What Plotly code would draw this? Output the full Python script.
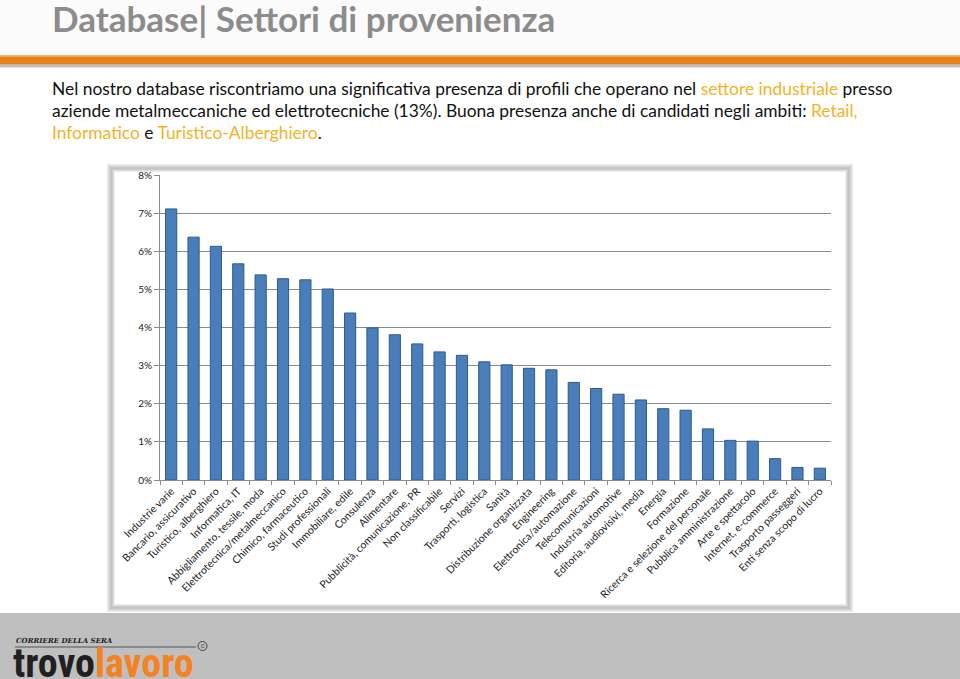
import plotly.graph_objects as go

# ---------------- data ----------------
categories = [
    "Industrie varie", "Bancario, assicurativo", "Turistico, alberghiero", "Informatica, IT",
    "Abbigliamento, tessile, moda", "Elettrotecnica/metalmeccanico", "Chimico, farmaceutico",
    "Studi professionali", "Immobiliare, edile", "Consulenza", "Alimentare",
    "Pubblicità, comunicazione, PR", "Non classificabile", "Servizi", "Trasporti, logistica",
    "Sanità", "Distribuzione organizzata", "Engineering", "Elettronica/automazione",
    "Telecomunicazioni", "Industria automotive", "Editoria, audiovisivi, media", "Energia",
    "Formazione", "Ricerca e selezione del personale", "Pubblica amministrazione",
    "Arte e spettacolo", "Internet, e-commerce", "Trasporto passeggeri", "Enti senza scopo di lucro",
]
values_pct = [
    7.11, 6.37, 6.13, 5.67, 5.38, 5.28, 5.25, 5.01, 4.38, 3.99, 3.81, 3.57, 3.36, 3.27, 3.10,
    3.02, 2.93, 2.89, 2.56, 2.40, 2.25, 2.10, 1.87, 1.83, 1.34, 1.04, 1.02, 0.56, 0.33, 0.31,
]
y_tick_values = [0, 1, 2, 3, 4, 5, 6, 7, 8]
y_tick_labels = [f"{v}%" for v in y_tick_values]

title_text = "Database| Settori di provenienza"
HL = "#F2B326"
body_lines = [
    'Nel nostro database riscontriamo una significativa presenza di profili che operano nel '
    f'<span style="color:{HL}">settore industriale</span> presso',
    'aziende metalmeccaniche ed elettrotecniche (13%). Buona presenza anche di candidati negli ambiti: '
    f'<span style="color:{HL}">Retail,</span>',
    f'<span style="color:{HL}">Informatico</span> e '
    f'<span style="color:{HL}">Turistico-Alberghiero</span>.',
]

# ---------------- layout geometry (pixels) ----------------
W_FIG, H_FIG = 960, 679
L, R, T, B = 160, 831, 175, 480
PW, PH = R - L, B - T


def px(x):
    return (x - L) / PW


def py(y):
    return (B - y) / PH


FONT = "Lato, Calibri, Carlito, 'Open Sans', sans-serif"

fig = go.Figure()
fig.add_trace(go.Bar(
    x=categories, y=values_pct,
    marker=dict(color="#4A7EBB", line=dict(color="#2C5A8F", width=1)),
    hovertemplate="%{x}: %{y:.2f}%<extra></extra>",
))

shapes = []
# header band
shapes.append(dict(type="rect", xref="paper", yref="paper", x0=px(0), x1=px(W_FIG), y0=py(0), y1=py(55),
                   fillcolor="#FBFBFB", line=dict(width=0), layer="below"))
# orange bar + shadow
shapes.append(dict(type="rect", xref="paper", yref="paper", x0=px(0), x1=px(W_FIG), y0=py(64.5), y1=py(67.5),
                   fillcolor="#B9C0C8", line=dict(width=0), layer="below"))
shapes.append(dict(type="rect", xref="paper", yref="paper", x0=px(0), x1=px(W_FIG), y0=py(55.5), y1=py(64.5),
                   fillcolor="#E8801C", line=dict(width=0), layer="below"))
shapes.append(dict(type="rect", xref="paper", yref="paper", x0=px(0), x1=px(W_FIG), y0=py(55.5), y1=py(57),
                   fillcolor="#F0A860", line=dict(width=0), layer="below"))
# chart panel with soft shadow border
for i, col in enumerate(["#EDEDED", "#E0E0E0", "#D3D3D3", "#C8C8C8", "#C4C4C4", "#CCCCCC", "#DCDCDC", "#EEEEEE"]):
    shapes.append(dict(type="rect", xref="paper", yref="paper",
                       x0=px(107 + i), x1=px(853 - i), y0=py(164 + i), y1=py(612 - i),
                       fillcolor=col, line=dict(width=0), layer="below"))
shapes.append(dict(type="rect", xref="paper", yref="paper", x0=px(115), x1=px(845), y0=py(172), y1=py(604),
                   fillcolor="#FFFFFF", line=dict(width=0), layer="below"))
# footer
shapes.append(dict(type="rect", xref="paper", yref="paper", x0=px(0), x1=px(W_FIG), y0=py(613), y1=py(H_FIG + 2),
                   fillcolor="#BFBFBF", line=dict(width=0), layer="below"))
# logo rule
shapes.append(dict(type="line", xref="paper", yref="paper", x0=px(15), x1=px(196), y0=py(647), y1=py(647),
                   line=dict(color="#555555", width=1)))
shapes.append(dict(type="circle", xref="paper", yref="paper", x0=px(198), x1=px(207), y0=py(641.5), y1=py(650.5),
                   line=dict(color="#444444", width=1)))

annotations = []
annotations.append(dict(text=f"<b>{title_text}</b>", xref="paper", yref="paper", x=px(50), y=py(18),
                        xanchor="left", yanchor="middle", showarrow=False,
                        font=dict(family=FONT, size=35, color="#8C8C8C")))
for i, line in enumerate(body_lines):
    annotations.append(dict(text=line, xref="paper", yref="paper", x=px(50), y=py(88 + 22.5 * i),
                            xanchor="left", yanchor="middle", showarrow=False,
                            font=dict(family=FONT, size=17.4, color="#111111")))
annotations.append(dict(text="<b><i>CORRIERE DELLA SERA</i></b>", xref="paper", yref="paper", x=px(14), y=py(640),
                        xanchor="left", yanchor="middle", showarrow=False,
                        font=dict(family="'DejaVu Serif', serif", size=7, color="#222222")))
annotations.append(dict(text="c", xref="paper", yref="paper", x=px(202.5), y=py(646),
                        xanchor="center", yanchor="middle", showarrow=False,
                        font=dict(family="Roboto", size=7, color="#444444")))
annotations.append(dict(text='<b>trovo<span style="color:#F5821F">lavoro</span></b>', xref="paper", yref="paper",
                        x=px(11), y=py(663), xanchor="left", yanchor="middle", showarrow=False,
                        font=dict(family="'Liberation Sans Narrow', 'Roboto Condensed', Roboto, sans-serif",
                                  size=40, color="#231F20")))

fig.update_layout(
    width=W_FIG, height=H_FIG,
    margin=dict(l=L, r=W_FIG - R, t=T, b=H_FIG - B, pad=0),
    paper_bgcolor="#FFFFFF", plot_bgcolor="rgba(0,0,0,0)",
    showlegend=False, bargap=0.5,
    shapes=shapes, annotations=annotations,
    font=dict(family=FONT, color="#222222"),
)
fig.update_xaxes(
    type="category", tickangle=-45, tickfont=dict(family=FONT, size=10.5, color="#222222"),
    showline=True, linecolor="#8A8A8A", linewidth=1,
    ticks="outside", ticklen=4, tickcolor="#8A8A8A", tickson="boundaries",
    showgrid=False, fixedrange=True,
)
fig.update_yaxes(
    range=[0, 8], tickvals=y_tick_values, ticktext=y_tick_labels,
    tickfont=dict(family=FONT, size=10, color="#222222"),
    showline=True, linecolor="#8A8A8A", linewidth=1,
    ticks="outside", ticklen=5, tickcolor="#8A8A8A",
    showgrid=True, gridcolor="#8A8A8A", gridwidth=1, zeroline=False, fixedrange=True,
)

fig.write_html(
    "out.html",
    config={"displayModeBar": False},
    post_script="document.body.style.margin='0';document.body.style.padding='0';"
                "document.documentElement.style.overflow='hidden';",
)
